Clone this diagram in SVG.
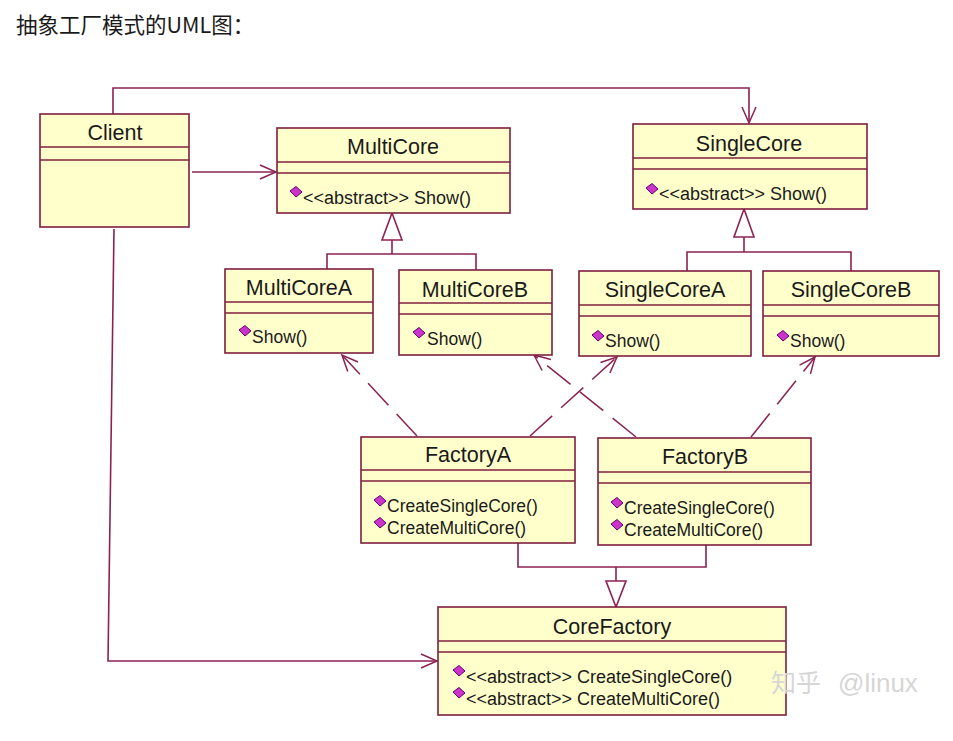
<svg xmlns="http://www.w3.org/2000/svg" xmlns:xlink="http://www.w3.org/1999/xlink" width="953" height="741" viewBox="0 0 953 741">
<style>
  .box { fill: #ffffcc; stroke: #7f1f3f; stroke-width: 1.6; }
  .div { stroke: #7f1f3f; stroke-width: 1.6; }
  .name { font-family: "Liberation Sans", Arial, sans-serif; font-size: 21.5px; fill: #1a1a1a; text-anchor: middle; }
  .op { font-family: "Liberation Sans", Arial, sans-serif; font-size: 17.5px; fill: #1a1a1a; }
  .abs { font-family: "Liberation Sans", Arial, sans-serif; font-size: 18px; fill: #1a1a1a; }
  .ln { fill: none; stroke: #8b2252; stroke-width: 1.6; }
  .dash { fill: none; stroke: #8b2252; stroke-width: 1.5; stroke-dasharray: 30 12; }
  .tri { fill: #ffffff; stroke: #8b2252; stroke-width: 1.6; }
  .title { font-family: "Noto Sans CJK SC", "Noto Sans", sans-serif; font-size: 21.5px; fill: #1a1a1a; }
  .wm { font-family: "Noto Sans CJK SC", "Liberation Sans", sans-serif; font-size: 25px; fill: #d6d6d6; }
  .wml { font-family: "Liberation Sans", Arial, sans-serif; font-size: 26px; fill: #d6d6d6; }
</style>
<defs>
  <marker id="open" markerUnits="userSpaceOnUse" viewBox="0 0 16 14" refX="16" refY="7" markerWidth="16" markerHeight="14" orient="auto" overflow="visible">
    <path d="M0,0 L16,7 L0,14" fill="none" stroke="#8b2252" stroke-width="1.5"/>
  </marker>
  <polygon id="dia" points="-6,-1 0,-5.5 6,0 0,5" fill="#cc33cc" stroke="#660066" stroke-width="1"/>
</defs>

<text class="title" x="16" y="33">抽象工厂模式的UML图：</text>

<g id="connectors">
  <polyline class="ln" points="113,114 113,88 749,88 749,123" marker-end="url(#open)"/>
  <line class="ln" x1="192" y1="172" x2="276" y2="172" marker-end="url(#open)"/>
  <polyline class="ln" points="114,229 108,661 437,661" marker-end="url(#open)"/>
  <polyline class="ln" points="327,269 327,254 476,254 476,270"/>
  <line class="ln" x1="392" y1="254" x2="392" y2="240"/>
  <polygon class="tri" points="392,213 382,240 402,240"/>
  <polyline class="ln" points="687,271 687,252 851,252 851,271"/>
  <line class="ln" x1="744" y1="252" x2="744" y2="237"/>
  <polygon class="tri" points="744,209 734,237 754,237"/>
  <polyline class="ln" points="518,543 518,567 706,567 706,545"/>
  <line class="ln" x1="616" y1="567" x2="616" y2="581"/>
  <polygon class="tri" points="616,607 606,581 626,581"/>
  <line class="dash" x1="417" y1="436" x2="342" y2="355" marker-end="url(#open)"/>
  <line class="dash" x1="530" y1="436" x2="617" y2="357" marker-end="url(#open)"/>
  <line class="dash" x1="636" y1="437" x2="534" y2="355" marker-end="url(#open)"/>
  <line class="dash" x1="751" y1="437" x2="815" y2="357" marker-end="url(#open)"/>
</g>

<g id="Client">
  <rect class="box" x="40" y="114" width="149" height="113"/>
  <line class="div" x1="40" y1="147" x2="189" y2="147"/>
  <line class="div" x1="40" y1="160" x2="189" y2="160"/>
  <text class="name" x="115" y="140">Client</text>
</g>

<g id="MultiCore">
  <rect class="box" x="277" y="128" width="233" height="85"/>
  <line class="div" x1="277" y1="162" x2="510" y2="162"/>
  <line class="div" x1="277" y1="173" x2="510" y2="173"/>
  <text class="name" x="393" y="154">MultiCore</text>
  <use xlink:href="#dia" x="296" y="192"/>
  <text class="abs" x="303" y="204">&lt;&lt;abstract&gt;&gt; Show()</text>
</g>

<g id="SingleCore">
  <rect class="box" x="633" y="124" width="234" height="85"/>
  <line class="div" x1="633" y1="158" x2="867" y2="158"/>
  <line class="div" x1="633" y1="169" x2="867" y2="169"/>
  <text class="name" x="749" y="151">SingleCore</text>
  <use xlink:href="#dia" x="652" y="189"/>
  <text class="abs" x="659" y="200">&lt;&lt;abstract&gt;&gt; Show()</text>
</g>

<g id="MultiCoreA">
  <rect class="box" x="225" y="269" width="148" height="84"/>
  <line class="div" x1="225" y1="302" x2="373" y2="302"/>
  <line class="div" x1="225" y1="313" x2="373" y2="313"/>
  <text class="name" x="299" y="295">MultiCoreA</text>
  <use xlink:href="#dia" x="245" y="331"/>
  <text class="op" x="252" y="343">Show()</text>
</g>

<g id="MultiCoreB">
  <rect class="box" x="399" y="270" width="153" height="85"/>
  <line class="div" x1="399" y1="303" x2="552" y2="303"/>
  <line class="div" x1="399" y1="314" x2="552" y2="314"/>
  <text class="name" x="475" y="297">MultiCoreB</text>
  <use xlink:href="#dia" x="419" y="333"/>
  <text class="op" x="427" y="345">Show()</text>
</g>

<g id="SingleCoreA">
  <rect class="box" x="579" y="271" width="172" height="85"/>
  <line class="div" x1="579" y1="305" x2="751" y2="305"/>
  <line class="div" x1="579" y1="316" x2="751" y2="316"/>
  <text class="name" x="665" y="297">SingleCoreA</text>
  <use xlink:href="#dia" x="598" y="336"/>
  <text class="op" x="605" y="347">Show()</text>
</g>

<g id="SingleCoreB">
  <rect class="box" x="763" y="271" width="176" height="85"/>
  <line class="div" x1="763" y1="305" x2="939" y2="305"/>
  <line class="div" x1="763" y1="316" x2="939" y2="316"/>
  <text class="name" x="851" y="297">SingleCoreB</text>
  <use xlink:href="#dia" x="783" y="336"/>
  <text class="op" x="790" y="347">Show()</text>
</g>

<g id="FactoryA">
  <rect class="box" x="361" y="437" width="214" height="106"/>
  <line class="div" x1="361" y1="470" x2="575" y2="470"/>
  <line class="div" x1="361" y1="481" x2="575" y2="481"/>
  <text class="name" x="468" y="462">FactoryA</text>
  <use xlink:href="#dia" x="380" y="501"/>
  <text class="op" x="387" y="512">CreateSingleCore()</text>
  <use xlink:href="#dia" x="380" y="523"/>
  <text class="op" x="387" y="534">CreateMultiCore()</text>
</g>

<g id="FactoryB">
  <rect class="box" x="598" y="438" width="213" height="107"/>
  <line class="div" x1="598" y1="472" x2="811" y2="472"/>
  <line class="div" x1="598" y1="483" x2="811" y2="483"/>
  <text class="name" x="705" y="464">FactoryB</text>
  <use xlink:href="#dia" x="617" y="503"/>
  <text class="op" x="624" y="514">CreateSingleCore()</text>
  <use xlink:href="#dia" x="617" y="525"/>
  <text class="op" x="624" y="536">CreateMultiCore()</text>
</g>

<g id="CoreFactory">
  <rect class="box" x="438" y="607" width="348" height="108"/>
  <line class="div" x1="438" y1="641" x2="786" y2="641"/>
  <line class="div" x1="438" y1="652" x2="786" y2="652"/>
  <text class="name" x="612" y="634">CoreFactory</text>
  <use xlink:href="#dia" x="459" y="671"/>
  <text class="abs" x="466" y="683">&lt;&lt;abstract&gt;&gt; CreateSingleCore()</text>
  <use xlink:href="#dia" x="459" y="693"/>
  <text class="abs" x="466" y="705">&lt;&lt;abstract&gt;&gt; CreateMultiCore()</text>
</g>

<g id="watermark">
  <text class="wm" x="771" y="692">知乎</text>
  <text class="wml" x="838" y="692">@linux</text>
</g>
</svg>
